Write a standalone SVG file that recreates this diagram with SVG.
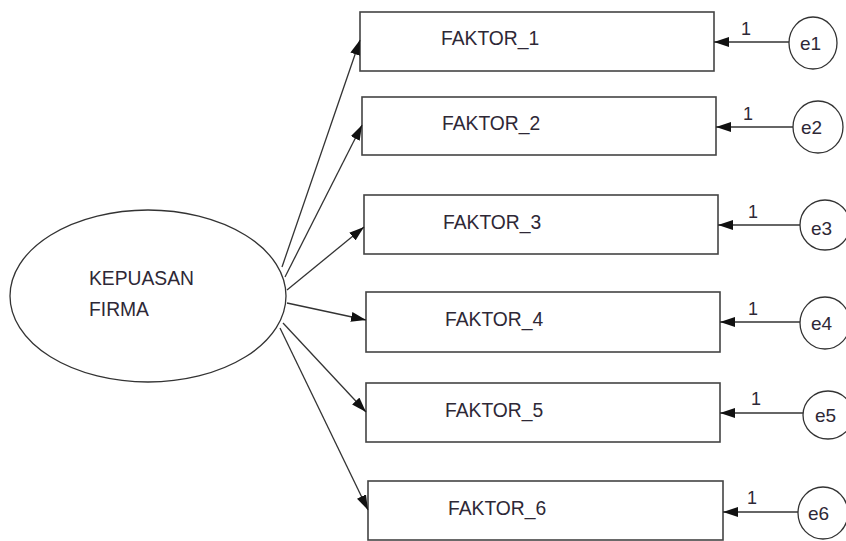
<svg xmlns="http://www.w3.org/2000/svg" width="846" height="541" viewBox="0 0 846 541">
<style>
.box{fill:#fff;stroke:#444;stroke-width:1.6}
.circ{fill:#fff;stroke:#333;stroke-width:1.3}
.t{font-family:"Liberation Sans",Arial,sans-serif;font-size:19.3px;fill:#2e2836}
.lbl{font-family:"Liberation Sans",Arial,sans-serif;font-size:19px;fill:#2e2836}
.one{font-family:"Liberation Sans",Arial,sans-serif;font-size:18px;fill:#2e2836}
.c{stroke:#333;stroke-width:1.3;fill:none;marker-end:url(#ah)}
</style>
<defs>
<marker id="ah" markerUnits="userSpaceOnUse" markerWidth="15" markerHeight="10" refX="15" refY="5" orient="auto">
<path d="M0,0 L15,5 L0,10 z" fill="#111"/>
</marker>
</defs>
<rect width="846" height="541" fill="#fff"/>
<g id="kepuasan">
<ellipse cx="148" cy="296" rx="138" ry="86" class="circ"/>
<text x="89" y="285" class="t">KEPUASAN</text>
<text x="89" y="316" class="t">FIRMA</text>
</g>
<g id="faktor1"><rect x="360" y="12" width="354" height="59" class="box"/><text x="441" y="45" class="t">FAKTOR_1</text></g>
<g id="faktor2"><rect x="362" y="97" width="354" height="58" class="box"/><text x="442" y="130" class="t">FAKTOR_2</text></g>
<g id="faktor3"><rect x="364" y="195" width="354" height="59" class="box"/><text x="443" y="229" class="t">FAKTOR_3</text></g>
<g id="faktor4"><rect x="366" y="292" width="354" height="60" class="box"/><text x="445" y="326" class="t">FAKTOR_4</text></g>
<g id="faktor5"><rect x="366" y="383" width="354" height="59" class="box"/><text x="445" y="417" class="t">FAKTOR_5</text></g>
<g id="faktor6"><rect x="368" y="481" width="355" height="59" class="box"/><text x="448" y="515" class="t">FAKTOR_6</text></g>
<g id="e1"><ellipse cx="813" cy="43" rx="24" ry="26" class="circ"/><text x="800" y="50" class="lbl">e1</text></g>
<g id="e2"><ellipse cx="818" cy="127" rx="25" ry="26" class="circ"/><text x="801" y="134" class="lbl">e2</text></g>
<g id="e3"><ellipse cx="825" cy="225" rx="25" ry="25" class="circ"/><text x="811" y="235" class="lbl">e3</text></g>
<g id="e4"><ellipse cx="825" cy="323" rx="25" ry="26" class="circ"/><text x="811" y="330" class="lbl">e4</text></g>
<g id="e5"><ellipse cx="828" cy="415" rx="25" ry="24" class="circ"/><text x="815" y="422" class="lbl">e5</text></g>
<g id="e6"><ellipse cx="823" cy="513" rx="25" ry="26" class="circ"/><text x="808" y="520" class="lbl">e6</text></g>
<g id="connectors">
<line x1="282" y1="267" x2="360" y2="40" class="c"/>
<line x1="285" y1="277" x2="362" y2="125" class="c"/>
<line x1="287" y1="290" x2="364" y2="227" class="c"/>
<line x1="287" y1="303" x2="366" y2="320" class="c"/>
<line x1="283" y1="323" x2="366" y2="412" class="c"/>
<line x1="280" y1="328" x2="368" y2="510" class="c"/>
<line x1="789" y1="42" x2="714" y2="42" class="c"/>
<line x1="793" y1="127" x2="716" y2="127" class="c"/>
<line x1="800" y1="225" x2="718" y2="225" class="c"/>
<line x1="800" y1="322" x2="720" y2="322" class="c"/>
<line x1="803" y1="413" x2="720" y2="413" class="c"/>
<line x1="798" y1="512" x2="723" y2="512" class="c"/>
<text x="741" y="35" class="one">1</text>
<text x="743" y="120" class="one">1</text>
<text x="748" y="218" class="one">1</text>
<text x="748" y="315" class="one">1</text>
<text x="751" y="405" class="one">1</text>
<text x="747" y="504" class="one">1</text>
</g>
</svg>
